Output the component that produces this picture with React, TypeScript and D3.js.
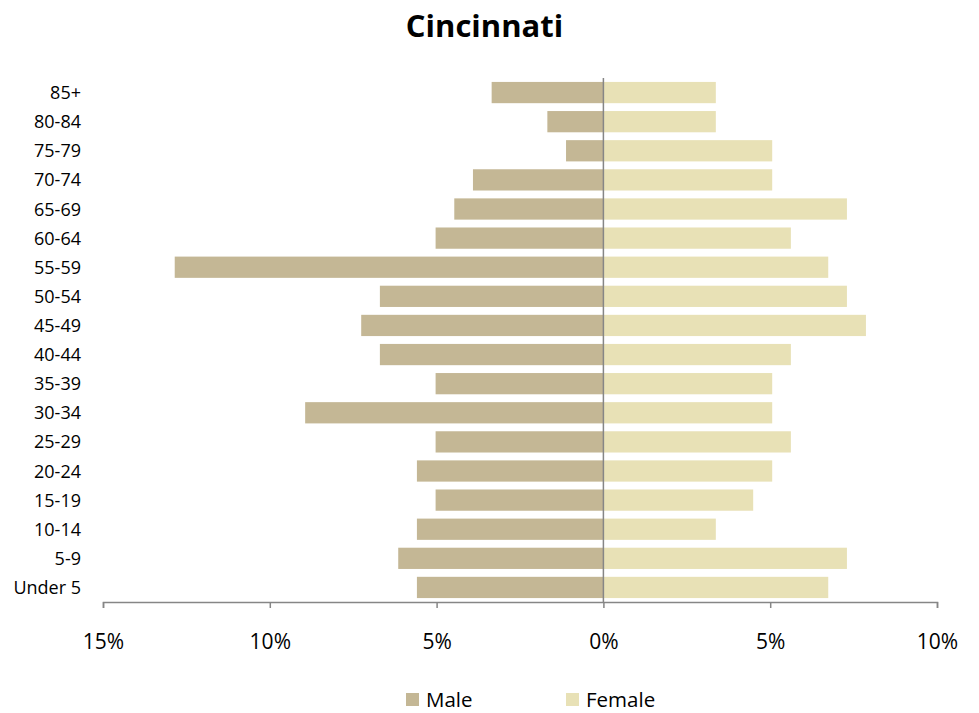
import { useEffect, useRef } from "react";
import * as d3 from "d3";

// Age groups, bottom to top (Excel plots the first category at the bottom)
const AGE_GROUPS = [
	"Under 5", "5-9", "10-14", "15-19", "20-24", "25-29", "30-34", "35-39", "40-44",
	"45-49", "50-54", "55-59", "60-64", "65-69", "70-74", "75-79", "80-84", "85+",
];

// Share of population, in percent
const MALE = [
	5.59, 6.15, 5.59, 5.03, 5.59, 5.03, 8.94, 5.03, 6.70,
	7.26, 6.70, 12.85, 5.03, 4.47, 3.91, 1.12, 1.68, 3.35,
];
const FEMALE = [
	6.74, 7.30, 3.37, 4.49, 5.06, 5.62, 5.06, 5.06, 5.62,
	7.87, 7.30, 6.74, 5.62, 7.30, 5.06, 5.06, 3.37, 3.37,
];

const X_TICKS = [-15, -10, -5, 0, 5, 10];
const SERIES = ["Male", "Female"];
const COLORS = ["#C4B795", "#E8E1B6"];

const FONT = "'Open Sans', 'DejaVu Sans', sans-serif";

export default function App() {
	const ref = useRef<SVGSVGElement>(null);

	useEffect(() => {
		const svg = d3.select(ref.current);
		svg.selectAll("*").remove();

		const width = 979;
		const height = 713;
		const plot = { left: 103, right: 937, top: 78, bottom: 602 };

		svg.append("rect")
			.attr("width", width)
			.attr("height", height)
			.attr("fill", "#fff");

		// Title
		svg.append("text")
			.attr("x", 484.5)
			.attr("y", 37)
			.attr("text-anchor", "middle")
			.attr("font-family", FONT)
			.attr("font-weight", "bold")
			.attr("font-size", "31px")
			.attr("fill", "#000")
			.text("Cincinnati");

		const x = d3.scaleLinear()
			.domain([-15, 10])
			.range([plot.left, plot.right]);

		// 85+ on top
		const y = d3.scaleBand()
			.domain(AGE_GROUPS.slice().reverse())
			.range([plot.top, plot.bottom])
			.paddingInner(0.27)
			.paddingOuter(0.135);

		const rows = AGE_GROUPS.map((age, i) => ({ age, male: MALE[i], female: FEMALE[i] }));

		// Male bars go left of zero
		svg.append("g")
			.selectAll("rect")
			.data(rows)
			.enter()
			.append("rect")
			.attr("x", d => x(-d.male))
			.attr("y", d => y(d.age)!)
			.attr("width", d => x(0) - x(-d.male))
			.attr("height", y.bandwidth())
			.attr("fill", COLORS[0]);

		svg.append("g")
			.selectAll("rect")
			.data(rows)
			.enter()
			.append("rect")
			.attr("x", x(0))
			.attr("y", d => y(d.age)!)
			.attr("width", d => x(d.female) - x(0))
			.attr("height", y.bandwidth())
			.attr("fill", COLORS[1]);

		// Category labels
		svg.append("g")
			.selectAll("text")
			.data(AGE_GROUPS)
			.enter()
			.append("text")
			.attr("x", 81)
			.attr("y", d => y(d)! + y.bandwidth() / 2 + 6.5)
			.attr("text-anchor", "end")
			.attr("font-family", FONT)
			.attr("font-size", "18px")
			.attr("fill", "#000")
			.text(d => d);

		// Vertical axis at zero
		svg.append("line")
			.attr("x1", x(0))
			.attr("x2", x(0))
			.attr("y1", plot.top)
			.attr("y2", plot.bottom)
			.attr("stroke", "#868686")
			.attr("stroke-width", 1.5);

		// Horizontal axis
		const xAxis = svg.append("g")
			.attr("transform", `translate(0,${plot.bottom})`)
			.call(
				d3.axisBottom(x)
					.tickValues(X_TICKS)
					.tickSize(6)
					.tickSizeOuter(6)
					.tickPadding(26)
					.tickFormat(d => `${Math.abs(+d)}%`)
			);

		xAxis.select(".domain")
			.attr("stroke", "#868686")
			.attr("stroke-width", 1.5);
		xAxis.selectAll(".tick line")
			.attr("stroke", "#868686")
			.attr("stroke-width", 1.5);
		xAxis.selectAll(".tick text")
			.attr("font-family", FONT)
			.attr("font-size", "21px")
			.attr("fill", "#000");

		// Legend
		const legendX = [406, 566];
		SERIES.forEach((name, i) => {
			svg.append("rect")
				.attr("x", legendX[i])
				.attr("y", 693)
				.attr("width", 13)
				.attr("height", 13)
				.attr("fill", COLORS[i]);

			svg.append("text")
				.attr("x", legendX[i] + 20)
				.attr("y", 707)
				.attr("font-family", FONT)
				.attr("font-size", "20.5px")
				.attr("fill", "#000")
				.text(name);
		});
	}, []);

	return (
		<svg
			ref={ref}
			width={979}
			height={713}
			style={{ position: "absolute", left: 0, top: 0, display: "block" }}
		/>
	);
}
